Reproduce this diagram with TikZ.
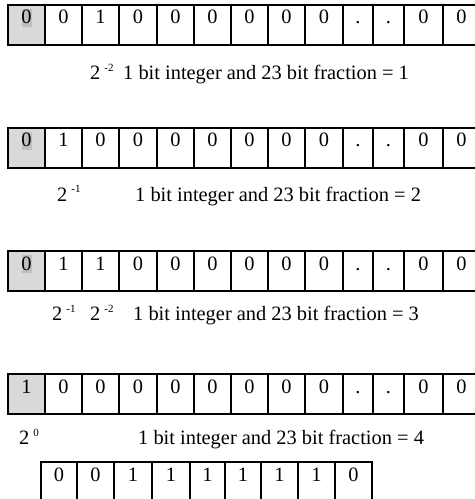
\documentclass[tikz,border=0pt]{standalone}
\usepackage{fontspec}
\setmainfont{Liberation Serif}
\newcommand{\pw}[1]{2\hspace{4bp}\raisebox{8bp}{\fontsize{11bp}{12bp}\selectfont #1}}
\tikzset{
  cellbox/.style={draw=black, line width=1.7bp, rectangle, inner sep=0pt, outer sep=0pt,
     minimum height=40bp, anchor=north west},
  digit/.style={anchor=base, inner sep=0pt, font=\fontsize{20.4bp}{24bp}\selectfont},
  lbl/.style={anchor=base west, inner sep=0pt, font=\fontsize{20.4bp}{24bp}\selectfont},
  thickline/.style={line width=2.6bp, line cap=rect},
  firstfill/.style={fill=black!15},
  patch/.style={fill=black!25}
}
\begin{document}
\begin{tikzpicture}[x=1bp, y=-1bp]
\useasboundingbox (0,0) rectangle (475,499);
% ---------- row 1 ----------
\foreach \a/\b/\d [count=\i] in {8/45/0,45/82/0,82/119/1,119/157/0,157/194/0,194/231/0,231/268/0,268/305/0,305/343/0,343/373/.,373/404/.,404/443/0,443/480/0}{
  \node[cellbox, minimum width={(\b-\a)*1bp}] (r1c\i) at (\a,5) {};
}
\fill[firstfill] (r1c1.north west) rectangle (r1c1.south east);
\fill[patch] (22,9) rectangle (32,27);
\foreach \a/\b/\d [count=\i] in {8/45/0,45/82/0,82/119/1,119/157/0,157/194/0,194/231/0,231/268/0,268/305/0,305/343/0,343/373/.,373/404/.,404/443/0,443/480/0}{
  \node[cellbox, minimum width={(\b-\a)*1bp}] at (\a,5) {};
  \node[digit] (r1d\i) at ([yshift=-19bp]r1c\i.north) {\d};
}
\draw[thickline] (r1c1.north west) -- (r1c13.north east);
\draw[thickline] (r1c1.south west) -- (r1c13.south east);
\draw[thickline] (r1c1.north west) -- (r1c1.south west);
\node[lbl] (l1a) at (90,80) {\pw{-2}};
\node[lbl] (l1b) at (123,80) {1 bit integer and 23 bit fraction = 1};
% ---------- row 2 ----------
\foreach \a/\b/\d [count=\i] in {8/45/0,45/82/1,82/119/0,119/157/0,157/194/0,194/231/0,231/268/0,268/305/0,305/343/0,343/373/.,373/404/.,404/443/0,443/480/0}{
  \node[cellbox, minimum width={(\b-\a)*1bp}] (r2c\i) at (\a,128) {};
}
\fill[firstfill] (r2c1.north west) rectangle (r2c1.south east);
\fill[patch] (22,132) rectangle (32,150);
\foreach \a/\b/\d [count=\i] in {8/45/0,45/82/1,82/119/0,119/157/0,157/194/0,194/231/0,231/268/0,268/305/0,305/343/0,343/373/.,373/404/.,404/443/0,443/480/0}{
  \node[cellbox, minimum width={(\b-\a)*1bp}] at (\a,128) {};
  \node[digit] (r2d\i) at ([yshift=-19bp]r2c\i.north) {\d};
}
\draw[thickline] (r2c1.north west) -- (r2c13.north east);
\draw[thickline] (r2c1.south west) -- (r2c13.south east);
\draw[thickline] (r2c1.north west) -- (r2c1.south west);
\node[lbl] (l2a) at (57,201) {\pw{-1}};
\node[lbl] (l2b) at (135,201) {1 bit integer and 23 bit fraction = 2};
% ---------- row 3 ----------
\foreach \a/\b/\d [count=\i] in {8/45/0,45/82/1,82/119/1,119/157/0,157/194/0,194/231/0,231/268/0,268/305/0,305/343/0,343/373/.,373/404/.,404/443/0,443/480/0}{
  \node[cellbox, minimum width={(\b-\a)*1bp}] (r3c\i) at (\a,251) {};
}
\fill[firstfill] (r3c1.north west) rectangle (r3c1.south east);
\fill[patch] (22,255) rectangle (32,273);
\foreach \a/\b/\d [count=\i] in {8/45/0,45/82/1,82/119/1,119/157/0,157/194/0,194/231/0,231/268/0,268/305/0,305/343/0,343/373/.,373/404/.,404/443/0,443/480/0}{
  \node[cellbox, minimum width={(\b-\a)*1bp}] at (\a,251) {};
  \node[digit] (r3d\i) at ([yshift=-19bp]r3c\i.north) {\d};
}
\draw[thickline] (r3c1.north west) -- (r3c13.north east);
\draw[thickline] (r3c1.south west) -- (r3c13.south east);
\draw[thickline] (r3c1.north west) -- (r3c1.south west);
\node[lbl] (l3a) at (52,320) {\pw{-1}};
\node[lbl] (l3b) at (90,320) {\pw{-2}};
\node[lbl] (l3c) at (133,320) {1 bit integer and 23 bit fraction = 3};
% ---------- row 4 ----------
\foreach \a/\b/\d [count=\i] in {8/45/1,45/82/0,82/119/0,119/157/0,157/194/0,194/231/0,231/268/0,268/305/0,305/343/0,343/373/.,373/404/.,404/443/0,443/480/0}{
  \node[cellbox, minimum width={(\b-\a)*1bp}] (r4c\i) at (\a,374) {};
}
\fill[firstfill] (r4c1.north west) rectangle (r4c1.south east);
\foreach \a/\b/\d [count=\i] in {8/45/1,45/82/0,82/119/0,119/157/0,157/194/0,194/231/0,231/268/0,268/305/0,305/343/0,343/373/.,373/404/.,404/443/0,443/480/0}{
  \node[cellbox, minimum width={(\b-\a)*1bp}] at (\a,374) {};
  \node[digit] (r4d\i) at ([yshift=-19bp]r4c\i.north) {\d};
}
\draw[thickline] (r4c1.north west) -- (r4c13.north east);
\draw[thickline] (r4c1.south west) -- (r4c13.south east);
\draw[thickline] (r4c1.north west) -- (r4c1.south west);
\node[lbl] (l4a) at (19,444) {\pw{0}};
\node[lbl] (l4b) at (138,444) {1 bit integer and 23 bit fraction = 4};
% ---------- row 5 ----------
\foreach \a/\b/\d [count=\i] in {41/77/0,77/114/0,114/152/1,152/190/1,190/225/1,225/261/1,261/298/1,298/335/1,335/372/0}{
  \node[cellbox, minimum width={(\b-\a)*1bp}] (r5c\i) at (\a,462) {};
  \node[digit] (r5d\i) at ([yshift=-19bp]r5c\i.north) {\d};
}
\draw[thickline] (r5c1.north west) -- (r5c9.north east);
\draw[thickline] (r5c1.north west) -- (r5c1.south west);
\draw[thickline] (r5c9.north east) -- (r5c9.south east);
\end{tikzpicture}
\end{document}
